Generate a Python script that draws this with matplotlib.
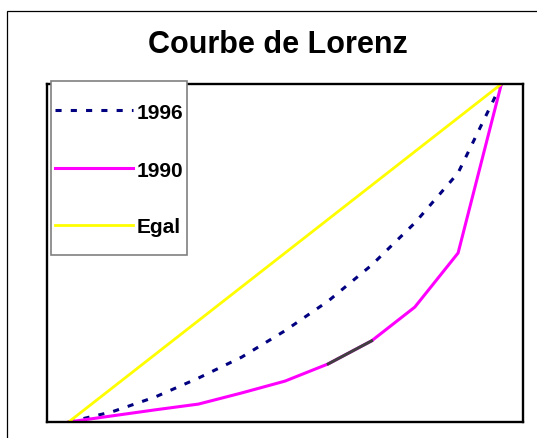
import numpy as np
import matplotlib
matplotlib.use('Agg')
import matplotlib.pyplot as plt
from matplotlib.patches import Rectangle
from matplotlib.lines import Line2D

# data (cumulative share, %)
categories = list(range(11))
y1996 = [0, 3, 7.4, 13, 19.2, 27, 35.8, 46.4, 58.9, 73.7, 100]
y1990 = [0, 1.8, 3.6, 5.3, 8.6, 12.1, 17.2, 24, 34, 50, 100]
egal = [0, 10, 20, 30, 40, 50, 60, 70, 80, 90, 100]
labels = ['1996', '1990', 'Egal']

plt.rcParams['font.family'] = ['Liberation Sans', 'DejaVu Sans']

W, H = 537, 438
fig = plt.figure(figsize=(W/100, H/100), dpi=100)
fig.patch.set_facecolor('white')

def fx(px):
    return px / W

def fy(py):
    return 1 - py / H

# outer chart border (cut by the image edge)
fig.patches.append(Rectangle((fx(7), -0.1), 1.2, fy(11) + 0.1, transform=fig.transFigure,
                             fill=False, edgecolor='black', linewidth=0.9))

ax = fig.add_axes([fx(47), fy(422), fx(523 - 47), (422 - 84) / H])
x = np.array(categories)
styles = [dict(color='#000080', lw=2.2, linestyle=(0, (2, 3))),
          dict(color='#FF00FF', lw=2.2),
          dict(color='#FFFF00', lw=2.0)]
for yv, st, lab in zip([y1996, y1990, egal], styles, labels):
    ax.plot(x, yv, label=lab, **st)
# one segment of the 1990 curve is drawn dark grey in the original
ax.plot(x[6:8], y1990[6:8], color='#404040', lw=2.2, zorder=3)

ax.set_xlim(-0.5, 10.5)
ax.set_ylim(0, 100)
ax.set_xticks([])
ax.set_yticks([])
for s in ax.spines.values():
    s.set_linewidth(1.7)
    s.set_color('black')

fig.text(fx(278), fy(45), 'Courbe de Lorenz', ha='center', va='center',
         fontsize=22, fontweight='bold')

# legend box, drawn by hand to get the original's uneven padding
fig.patches.append(Rectangle((fx(51), fy(255)), fx(187 - 51), (255 - 81) / H,
                             transform=fig.transFigure, facecolor='white',
                             edgecolor='#808080', linewidth=1.2, zorder=5))
line_y = [110, 168, 225]
base_y = [119, 177, 233]
for st, lab, ly, by in zip(styles, labels, line_y, base_y):
    fig.add_artist(Line2D([fx(55), fx(133)], [fy(ly), fy(ly)], transform=fig.transFigure,
                          zorder=6, **st))
    fig.text(fx(137), fy(by), lab, ha='left', va='baseline', fontsize=15,
             fontweight='bold', zorder=6)

fig.savefig('out.png', dpi=100)
